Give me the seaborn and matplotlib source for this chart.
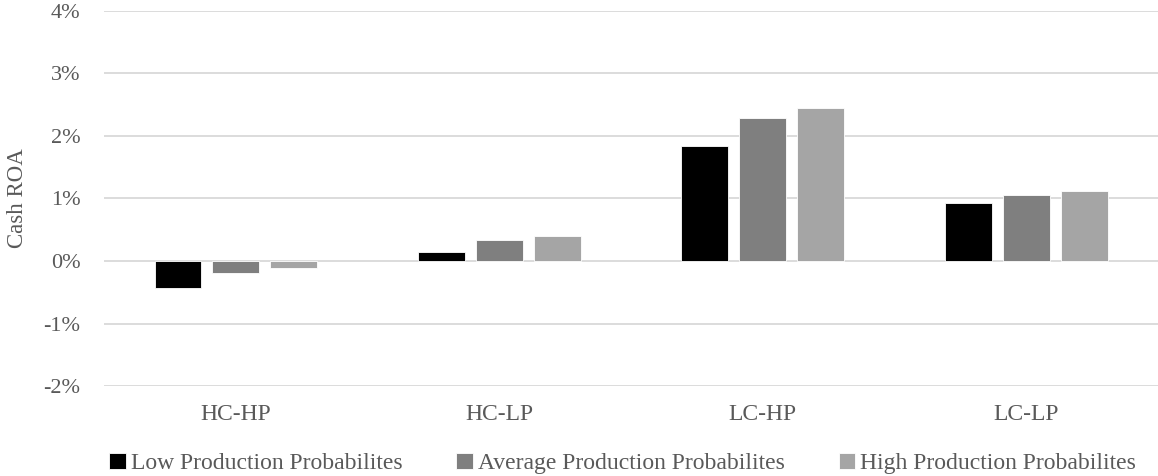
import matplotlib
matplotlib.use("Agg")
import matplotlib.pyplot as plt
import seaborn as sns
import pandas as pd
from matplotlib.ticker import FuncFormatter

categories = ["HC-HP", "HC-LP", "LC-HP", "LC-LP"]
series = ["Low Production Probabilites", "Average Production Probabilites", "High Production Probabilites"]
low_vals = [-0.43, 0.14, 1.84, 0.93]
avg_vals = [-0.19, 0.34, 2.29, 1.06]
high_vals = [-0.11, 0.40, 2.45, 1.12]
colors = ["#000000", "#7f7f7f", "#a5a5a5"]
yticks = [-2, -1, 0, 1, 2, 3, 4]

rows = []
for s, vals in zip(series, [low_vals, avg_vals, high_vals]):
    for c, v in zip(categories, vals):
        rows.append({"cat": c, "series": s, "val": v})
df = pd.DataFrame(rows)

sns.set_theme(style="white")
plt.rcParams["font.family"] = ["Liberation Serif", "DejaVu Serif"]
txt = "#595959"

fig = plt.figure(figsize=(11.58, 4.76), dpi=100)
ax = fig.add_axes([0.09, 0.189, 0.91, 0.788])
ax.set_axisbelow(True)
for t in yticks:
    ax.axhline(t, color="#d9d9d9", lw=1.3, zorder=0)

sns.barplot(data=df, x="cat", y="val", hue="series", palette=colors,
            width=0.66, gap=0.19, ax=ax, edgecolor="white", linewidth=0.6,
            saturation=1, zorder=2)

ax.set_ylim(-2, 4)
ax.set_xlim(-0.5, 3.5)
ax.set_yticks(yticks)
ax.yaxis.set_major_formatter(FuncFormatter(lambda v, p: f"{int(v)}%"))
ax.set_xlabel("")
ax.set_ylabel("Cash ROA", color=txt, fontsize=16.5, labelpad=11)
ax.tick_params(axis="both", colors=txt, length=0)
ax.tick_params(axis="x", pad=13, labelsize=17)
ax.tick_params(axis="y", pad=17, labelsize=16)
for sp in ax.spines.values():
    sp.set_visible(False)

leg = ax.legend(loc="lower center", bbox_to_anchor=(0.492, -0.26), ncol=3,
                frameon=False, fontsize=17, handlelength=0.7, handleheight=0.7,
                handletextpad=0.2, columnspacing=2.3, borderaxespad=0)
for t in leg.get_texts():
    t.set_color(txt)

fig.savefig("out.png", dpi=100)
